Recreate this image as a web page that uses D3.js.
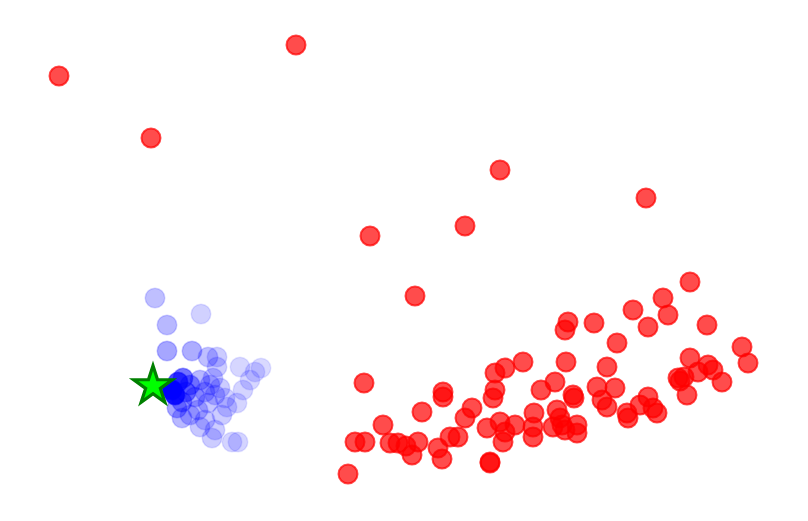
<!DOCTYPE html>
<html><head><meta charset="utf-8">
<script src="https://cdn.jsdelivr.net/npm/d3@7"></script>
<style>html,body{margin:0;padding:0;background:#fff;overflow:hidden}</style>
</head><body>
<script>
// Red group: x values, y values
const redX = [5.9,29.6,15.1,50.0,64.6,46.5,37.0,41.5,36.4,34.8,35.5,36.5,38.3,39.0,39.8,40.6,41.8,41.2,42.2,43.8,44.2,45.0,45.8,46.5,47.2,44.3,44.3,48.7,49.0,49.0,49.5,50.5,52.3,49.5,49.3,50.0,50.5,50.3,51.5,53.3,53.3,54.1,53.4,55.5,56.6,56.8,56.5,59.4,63.3,61.7,60.7,59.7,61.5,57.3,57.4,60.2,60.7,55.7,56.0,56.2,56.5,57.7,57.7,55.3,62.7,62.8,69.0,66.3,66.8,64.8,70.7,74.2,74.8,69.0,70.8,71.3,69.8,72.2,67.8,68.0,68.4,68.7,64.8,64.0,65.3,65.7];
const redY = [44.5,47.6,38.3,35.1,32.3,29.5,28.5,22.5,13.8,4.7,7.9,7.9,9.6,7.8,7.8,7.5,7.9,6.6,10.9,7.3,6.2,8.4,8.4,10.3,11.3,12.9,12.4,9.3,5.9,5.8,14.8,15.3,15.9,13.1,12.3,9.9,8.9,7.9,9.6,9.4,8.4,13.1,10.8,13.9,15.9,19.9,19.1,19.8,21.1,17.8,15.4,13.4,13.3,12.6,12.3,12.1,11.4,11.1,10.3,9.6,9.1,9.6,8.8,9.4,10.8,10.3,23.9,22.3,20.6,19.4,19.6,17.4,15.8,16.3,15.6,15.1,14.9,13.9,14.3,14.0,14.4,12.6,12.4,11.6,11.3,10.8];

// Blue group: x values, y values, weight
const blueX = [17.2,17.5,17.8,18.3,18.6,18.2,17.7,19.0,19.5,20.0,20.5,21.0,21.5,20.8,19.8,19.0,18.2,21.3,22.0,22.5,22.7,23.7,24.3,25.0,24.0,21.7,26.1,25.5,15.5,20.1,16.7,16.7,19.2,20.8,21.7,20.0,21.5,21.2,23.2,23.8,20.5,22.2];
const blueY = [13.1,12.6,13.9,14.3,12.9,11.9,11.3,13.6,12.4,14.1,12.9,13.6,12.6,11.8,11.1,10.6,10.3,14.3,13.3,12.3,11.4,11.8,13.1,14.1,15.4,15.4,15.3,14.9,22.3,20.7,19.6,17.0,17.0,16.4,16.4,9.4,9.1,8.3,7.9,7.9,10.1,10.6];
const blueW = [1.0,0.9,0.7,0.55,0.45,0.4,0.35,0.4,0.3,0.28,0.25,0.25,0.22,0.22,0.25,0.25,0.28,0.22,0.2,0.18,0.18,0.17,0.17,0.16,0.16,0.2,0.15,0.16,0.25,0.18,0.28,0.35,0.32,0.25,0.2,0.22,0.2,0.2,0.17,0.17,0.22,0.2];

// Target star
const starX = [15.3];
const starY = [13.5];

const W = 808, H = 521;
const x = d3.scaleLinear().domain([0, 80.8]).range([0, W]);
const y = d3.scaleLinear().domain([0, 52.1]).range([H, 0]);
const alpha = d3.scaleLinear().domain([0, 1]).range([0, 1]);

const svg = d3.select("body").append("svg").attr("width", W).attr("height", H);

const red = redX.map((v, i) => ({x: v, y: redY[i]}));
svg.append("g").selectAll("circle").data(red).join("circle")
  .attr("cx", d => x(d.x)).attr("cy", d => y(d.y)).attr("r", 9.5)
  .attr("fill", "#ff0000").attr("fill-opacity", 0.7)
  .attr("stroke", "#ff0000").attr("stroke-opacity", 0.7).attr("stroke-width", 2);

const blue = blueX.map((v, i) => ({x: v, y: blueY[i], w: blueW[i]}))
  .sort((a, b) => a.w - b.w);
svg.append("g").selectAll("circle").data(blue).join("circle")
  .attr("cx", d => x(d.x)).attr("cy", d => y(d.y)).attr("r", 9.8)
  .attr("fill", "#0000ff").attr("fill-opacity", d => alpha(d.w))
  .attr("stroke", "#0000ff").attr("stroke-opacity", d => alpha(d.w) * 0.6).attr("stroke-width", 1.5);

const star = starX.map((v, i) => ({x: v, y: starY[i]}));
svg.append("g").selectAll("path").data(star).join("path")
  .attr("transform", d => `translate(${x(d.x)},${y(d.y)})`)
  .attr("d", d3.symbol().type(d3.symbolStar).size(460))
  .attr("fill", "#00ff00").attr("stroke", "#008000").attr("stroke-width", 3.2)
  .attr("stroke-linejoin", "miter");
</script>
</body></html>
